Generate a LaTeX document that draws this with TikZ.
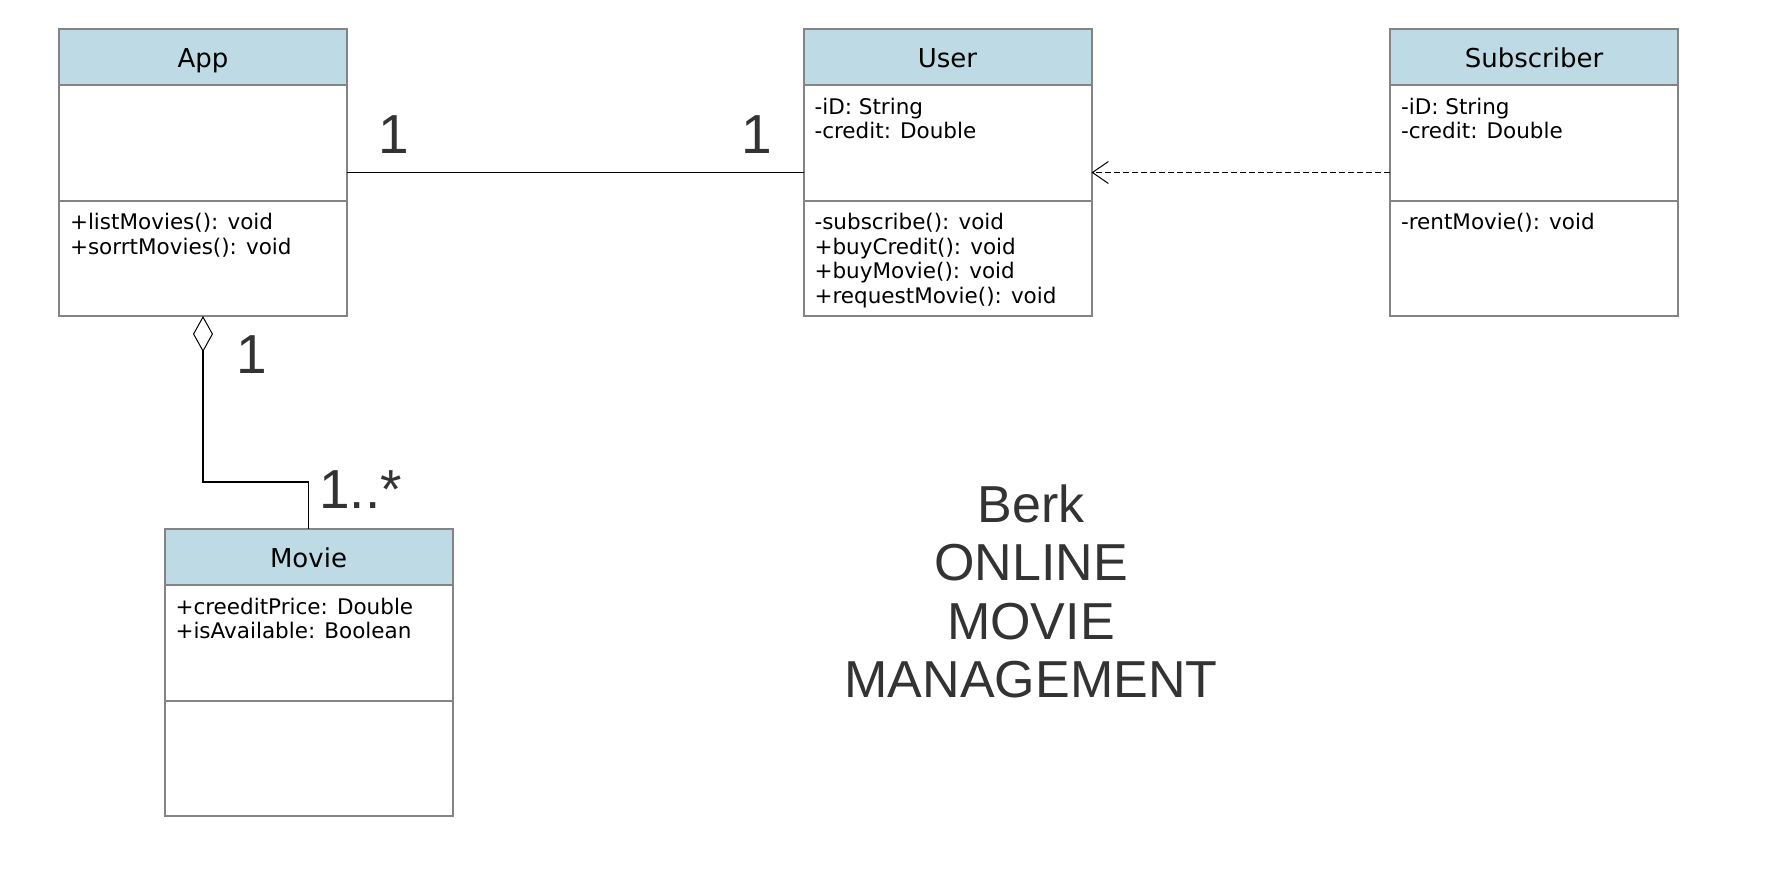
\documentclass[tikz,border=0pt]{standalone}
\usepackage{fontspec}
\setmainfont{DejaVu Sans}
\newfontfamily\labelfont{Liberation Sans}
\usetikzlibrary{positioning,arrows.meta}
\definecolor{headblue}{RGB}{190,219,229}
\definecolor{boxgray}{RGB}{132,132,132}
\definecolor{textgray}{RGB}{51,51,51}
\newcommand{\classitems}[1]{\parbox[c][57.75pt][t]{133pt}{\rule{0pt}{14.5pt}#1}}

\begin{document}
\begin{tikzpicture}[x=0.5pt,y=-0.5pt,
    classframe/.style={minimum width=144pt,minimum height=143.5pt,inner sep=0pt,outer sep=0pt},
    classhead/.style={draw=boxgray,fill=headblue,line width=1pt,minimum width=144pt,
      minimum height=28pt,inner sep=0pt,outer sep=0pt,text height=11pt,text depth=1pt,
      font=\fontsize{13pt}{15pt}\selectfont},
    classpart/.style={draw=boxgray,fill=white,line width=1pt,minimum width=144pt,
      inner xsep=5.5pt,inner ysep=0pt,outer sep=0pt,font=\fontsize{10.75pt}{12.25pt}\selectfont},
    mult/.style={inner sep=0pt,text=textgray,font=\labelfont\fontsize{27.5pt}{30pt}\selectfont},
    assoc/.style={draw=black,line width=0.75pt},
    depend/.style={draw=black,line width=0.6pt,dash pattern=on 2.8pt off 1.7pt,
      -{Straight Barb[length=8pt,width=11pt,line width=0.5pt]}},
    aggr/.style={draw=black,line width=0.75pt,
      {Diamond[open,length=18pt,width=10pt,line width=0.5pt]}-}]
  %
  % Page
  \fill[white] (0,0) rectangle (1792,880);
  \useasboundingbox (0,0) rectangle (1792,880);
  %
  % App
  \node[classframe] (app) at (203,172.5) {};
  \node[classhead,below=0pt of app.north] (app-head) {App};
  \node[classpart,below=0pt of app-head] (app-attr) {\classitems{}};
  \node[classpart,below=0pt of app-attr] (app-meth)
    {\classitems{+listMovies(): void\\+sorrtMovies(): void}};
  %
  % User
  \node[classframe] (user) at (947.5,172.5) {};
  \node[classhead,below=0pt of user.north] (user-head) {User};
  \node[classpart,below=0pt of user-head] (user-attr)
    {\classitems{-iD: String\\-credit: Double}};
  \node[classpart,below=0pt of user-attr] (user-meth)
    {\classitems{-subscribe(): void\\+buyCredit(): void\\+buyMovie(): void\\+requestMovie(): void}};
  %
  % Subscriber
  \node[classframe] (subscriber) at (1534,172.5) {};
  \node[classhead,below=0pt of subscriber.north] (subscriber-head) {Subscriber};
  \node[classpart,below=0pt of subscriber-head] (subscriber-attr)
    {\classitems{-iD: String\\-credit: Double}};
  \node[classpart,below=0pt of subscriber-attr] (subscriber-meth)
    {\classitems{-rentMovie(): void}};
  %
  % Movie
  \node[classframe] (movie) at (308.5,672.5) {};
  \node[classhead,below=0pt of movie.north] (movie-head) {Movie};
  \node[classpart,below=0pt of movie-head] (movie-attr)
    {\classitems{+creeditPrice: Double\\+isAvailable: Boolean}};
  \node[classpart,below=0pt of movie-attr] (movie-meth) {\classitems{}};
  %
  % Connectors
  \draw[assoc] (app.east) -- (user.west);
  \draw[depend] (subscriber.west) -- (user.east);
  \coordinate (aggr-bend) at (203,482);
  \draw[aggr] (app.south) -- (aggr-bend) -| (movie.north);
  %
  % Multiplicities
  \node[mult,anchor=base] (mult-app) at (394,153) {1};
  \node[mult,anchor=base] (mult-user) at (757,153) {1};
  \node[mult,anchor=base] (mult-aggr) at (252,373) {1};
  \node[mult,anchor=base west] (mult-movie) at (319,508) {1..*};
  %
  % Title
  \node[inner sep=0pt,align=center,text=textgray,
    font=\labelfont\fontsize{26pt}{29.17pt}\selectfont] (title) at (1031,591.5)
    {Berk\\ONLINE\\MOVIE\\MANAGEMENT};
  %
\end{tikzpicture}
\end{document}
